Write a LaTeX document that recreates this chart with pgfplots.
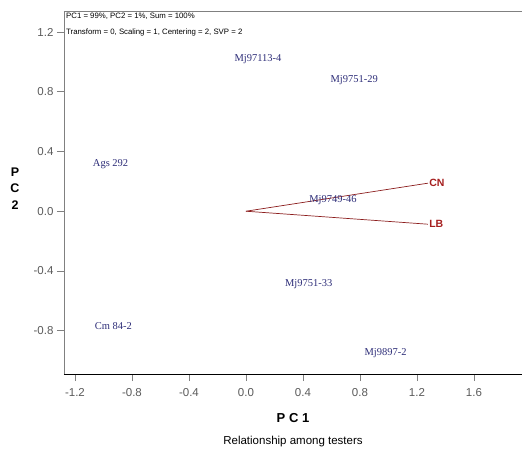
\documentclass[border=0pt]{standalone}
\usepackage{pgfplots}
\pgfplotsset{compat=1.18}
\usepackage{fontspec}
\setmainfont{Liberation Sans}
\newfontfamily\serifpt{Liberation Serif}
\definecolor{lblblue}{RGB}{45,45,120}
\definecolor{vecred}{RGB}{140,30,30}
\definecolor{txtred}{RGB}{165,30,30}
\definecolor{tickgray}{RGB}{90,90,90}
\pgfplotstableread{
x y label
0.084 1.02 Mj97113-4
0.76 0.88 Mj9751-29
-0.95 0.315 {Ags 292}
0.61 0.074 Mj9749-46
0.44 -0.49 Mj9751-33
-0.93 -0.77 {Cm 84-2}
0.98 -0.95 Mj9897-2
}\genotypes
\begin{document}
\begin{tikzpicture}
\begin{axis}[
  scale only axis, width=458pt, height=363pt,
  xmin=-1.277, xmax=1.937, ymin=-1.091, ymax=1.342,
  axis x line=bottom, axis y line=left,
  axis line style={-},
  x axis line style={black, line width=0.8pt},
  y axis line style={gray, line width=0.8pt},
  tick align=outside,
  major tick length=7pt,
  tick style={gray, line width=0.8pt},
  xtick={-1.2,-0.8,-0.4,0,0.4,0.8,1.2,1.6},
  xticklabels={-1.2,-0.8,-0.4,0.0,0.4,0.8,1.2,1.6},
  ytick={-0.8,-0.4,0,0.4,0.8,1.2},
  yticklabels={-0.8,-0.4,0.0,0.4,0.8,1.2},
  ticklabel style={font=\fontsize{11.5}{13}\selectfont, text=tickgray},
  xticklabel style={yshift=-4pt},
  clip=false,
]
\draw[gray, line width=0.8pt] (rel axis cs:0,1) -- (rel axis cs:1,1);
\addplot[only marks, mark=none, nodes near coords, point meta=explicit symbolic,
  every node near coord/.style={anchor=center, text=lblblue, font=\serifpt\fontsize{10.5}{12}\selectfont}]
  table[x=x, y=y, meta=label] {\genotypes};
\addplot[vecred, line width=0.7pt] coordinates {(0,0) (1.277,0.188)}
  node[pos=1, anchor=west, inner sep=1pt, text=txtred, font=\bfseries\fontsize{10.5}{12}\selectfont] {CN};
\addplot[vecred, line width=0.7pt] coordinates {(0,0) (1.277,-0.087)}
  node[pos=1, anchor=west, inner sep=1pt, text=txtred, font=\bfseries\fontsize{10.5}{12}\selectfont] {LB};
\node[anchor=west, inner sep=0pt, font=\fontsize{7.8}{9}\selectfont] at (axis cs:-1.263,1.305) {PC1 = 99\%, PC2 = 1\%, Sum = 100\%};
\node[anchor=west, inner sep=0pt, font=\fontsize{7.8}{9}\selectfont] at (axis cs:-1.263,1.2) {Transform = 0, Scaling = 1, Centering = 2, SVP = 2};
\node[font=\bfseries\fontsize{13}{15}\selectfont] at (rel axis cs:0.5,0) [yshift=-44pt] {P C 1};
\node[font=\fontsize{11.5}{13}\selectfont] at (rel axis cs:0.5,0) [yshift=-68pt] {Relationship among testers};
\node[font=\bfseries\fontsize{12.5}{16.5}\selectfont, align=center] at (rel axis cs:0,0.5) [xshift=-49pt, yshift=4pt] {P\\C\\2};
\coordinate (bl) at (rel axis cs:0,0);
\end{axis}
\pgfresetboundingbox
\path (bl) ++(-64pt,-76pt) rectangle ++(522pt,450pt);
\end{tikzpicture}
\end{document}
